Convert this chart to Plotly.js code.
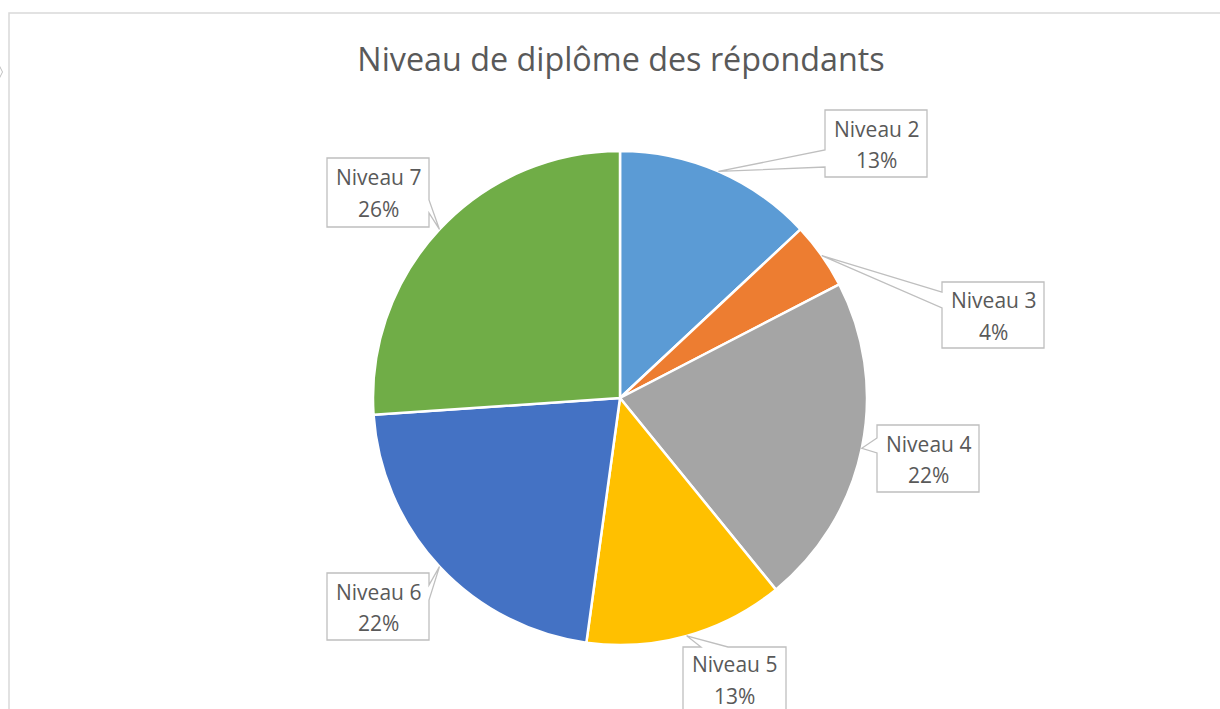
<!DOCTYPE html>
<html>
<head>
<meta charset="utf-8">
<script src="https://cdn.plot.ly/plotly-3.0.1.min.js"></script>
<style>html,body{margin:0;padding:0;background:#fff;}#chart{width:1220px;height:709px;}</style>
</head>
<body>
<div id="chart"></div>
<script>
// ---- data ----
var categories = ["Niveau 2", "Niveau 3", "Niveau 4", "Niveau 5", "Niveau 6", "Niveau 7"];
var values = [3, 1, 5, 3, 5, 6];
var colors = ["#5B9BD5", "#ED7D31", "#A5A5A5", "#FFC000", "#4472C4", "#70AD47"];
var chartTitle = "Niveau de diplôme des répondants";

// ---- layout config (pixels) ----
var W = 1220, H = 709;
var CX = 620, CY = 398, R = 247;
var FONT = "'Open Sans', sans-serif";
// callout boxes: [x0,y0,x1,y1], side facing the slice, base offsets along that side
var callouts = [
  {box: [825, 110, 927, 177], side: "left",   base: [150, 167]},
  {box: [942, 282, 1044, 348], side: "left",  base: [292, 308]},
  {box: [877, 425, 979, 492], side: "left",   base: [438, 453]},
  {box: [683, 647, 786, 711], side: "top",    base: [701, 728]},
  {box: [327, 573, 429, 640], side: "right",  base: [585, 600]},
  {box: [327, 158, 429, 227], side: "right",  base: [200, 213]}
];

function px(x) { return x / W; }
function py(y) { return 1 - y / H; }
function pt(x, y) { return px(x).toFixed(5) + "," + py(y).toFixed(5); }

var total = values.reduce(function (a, b) { return a + b; }, 0);
var shapes = [];
var annotations = [];
var cum = 0;
values.forEach(function (v, i) {
  var mid = (cum + v / 2) / total * 2 * Math.PI;
  cum += v;
  var tx = CX + R * Math.sin(mid), ty = CY - R * Math.cos(mid);
  var c = callouts[i], b = c.box;
  var x0 = b[0], y0 = b[1], x1 = b[2], y1 = b[3], a = c.base[0], e = c.base[1];
  var pts = [];
  pts.push([x0, y0]);
  if (c.side === "top") { pts.push([a, y0], [tx, ty], [e, y0]); }
  pts.push([x1, y0]);
  if (c.side === "right") { pts.push([x1, a], [tx, ty], [x1, e]); }
  pts.push([x1, y1]);
  if (c.side === "bottom") { pts.push([e, y1], [tx, ty], [a, y1]); }
  pts.push([x0, y1]);
  if (c.side === "left") { pts.push([x0, e], [tx, ty], [x0, a]); }
  var path = "M " + pts.map(function (p) { return pt(p[0], p[1]); }).join(" L ") + " Z";
  shapes.push({type: "path", xref: "paper", yref: "paper", path: path,
    fillcolor: "#FFFFFF", line: {color: "#BFBFBF", width: 1.3}, layer: "above"});
  var cxb = (x0 + x1) / 2, cyb = (y0 + y1) / 2;
  annotations.push({
    xref: "paper", yref: "paper", x: px(cxb), y: py(cyb - 15),
    xanchor: "center", yanchor: "middle", showarrow: false,
    text: categories[i],
    font: {family: FONT, size: 21, color: "#595959"}
  });
  annotations.push({
    xref: "paper", yref: "paper", x: px(cxb), y: py(cyb + 16.5),
    xanchor: "center", yanchor: "middle", showarrow: false,
    text: Math.round(v / total * 100) + "%",
    font: {family: FONT, size: 21, color: "#595959"}
  });
});

// chart frame
shapes.unshift({type: "path", xref: "paper", yref: "paper",
  path: "M " + pt(9, 760) + " L " + pt(9, 13) + " L " + pt(1260, 13),
  line: {color: "#D9D9D9", width: 1.5}, layer: "below"});
shapes.unshift({type: "path", xref: "paper", yref: "paper",
  path: "M " + pt(-1, 65) + " L " + pt(2.5, 72) + " L " + pt(-1, 79),
  line: {color: "#BFBFBF", width: 1}, layer: "below"});

var trace = {
  type: "pie",
  labels: categories,
  values: values,
  sort: false,
  direction: "clockwise",
  rotation: 0,
  marker: {colors: colors, line: {color: "#FFFFFF", width: 2.5}},
  textinfo: "none",
  hoverinfo: "label+percent",
  showlegend: false,
  domain: {x: [px(CX - R), px(CX + R)], y: [py(CY + R), py(CY - R)]},
  automargin: false
};

var layout = {
  width: W, height: H,
  margin: {l: 0, r: 0, t: 0, b: 0},
  paper_bgcolor: "#FFFFFF",
  title: {text: chartTitle, font: {family: FONT, size: 32.3, color: "#595959"},
    x: 621 / W, xanchor: "center", y: 1 - 60 / H, yanchor: "middle", yref: "container"},
  showlegend: false,
  shapes: shapes,
  annotations: annotations
};

Plotly.newPlot("chart", [trace], layout, {displayModeBar: false, staticPlot: true});
</script>
</body>
</html>
